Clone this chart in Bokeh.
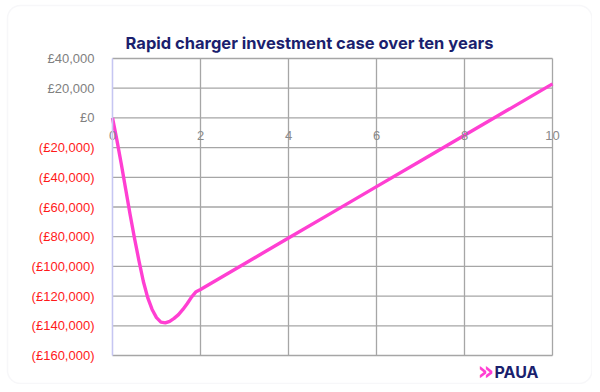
from bokeh.plotting import figure
from bokeh.models import LinearAxis, FixedTicker, Range1d, CustomJSTickFormatter, BoxAnnotation
from bokeh.core.properties import value
from bokeh.embed import file_html
from bokeh.resources import INLINE

# Data
years = [0, 0.1, 0.2, 0.3, 0.4, 0.5, 0.6, 0.7, 0.8, 0.9, 1.0, 1.1, 1.2, 1.3, 1.4,
         1.5, 1.6, 1.7, 1.8, 1.9, 2, 3, 4, 5, 6, 7, 8, 9, 10]
cumulative = [0, -15000, -31000, -48000, -65000, -81000, -96000, -110000, -121000,
              -129000, -134500, -137500, -138000, -137000, -135000, -132500, -129000,
              -125000, -120500, -117000, -115500, -98200, -80900, -63600, -46300,
              -29000, -11700, 5600, 22900]
x_ticks = [0, 2, 4, 6, 8, 10]
y_ticks_pos = [0, 20000, 40000]
y_ticks_neg = [-20000, -40000, -60000, -80000, -100000, -120000, -140000, -160000]
title_text = "Rapid charger investment case over ten years"

X_MIN, X_MAX = 0, 10
Y_MIN, Y_MAX = -160000, 40000

# pixel geometry: canvas 592 x 384, plot area 440 x 297 px at (112, 58)
PX_X = (X_MAX - X_MIN) / 440.0
PX_Y = (Y_MAX - Y_MIN) / 297.0
W, H = 592, 384
left_px, top_px = 112, 58


def xd(px):
    return X_MIN + (px - left_px) * PX_X


def yd(px):
    return Y_MAX - (px - top_px) * PX_Y


p = figure(width=W, height=H, output_backend="svg", toolbar_location=None,
           x_range=Range1d(xd(0), xd(W)), y_range=Range1d(yd(H), yd(0)),
           min_border=0)
p.background_fill_color = "white"
p.border_fill_color = "white"
p.outline_line_color = None
p.grid.visible = False

# card
p.add_layout(BoxAnnotation(left=xd(7), right=xd(591.5), top=yd(5), bottom=yd(383),
                           border_radius=13, fill_color="white", fill_alpha=1,
                           line_color="#e3e3ea", line_width=1.5, level="underlay"))

fmt = CustomJSTickFormatter(code="""
const a = Math.abs(tick).toLocaleString('en-GB');
return tick < 0 ? '(£' + a + ')' : '£' + a;
""")

# grid lines (plot-area box included)
grid_col = "#a6a6a6"
all_y = y_ticks_pos + y_ticks_neg
p.segment(x0=[X_MIN] * len(all_y), x1=[X_MAX] * len(all_y), y0=all_y, y1=all_y,
          line_color=grid_col, line_width=1.3)
p.segment(x0=x_ticks[1:], x1=x_ticks[1:], y0=[Y_MIN] * 5, y1=[Y_MAX] * 5,
          line_color=grid_col, line_width=1.3)

# negative labels, red
p.yaxis.ticker = FixedTicker(ticks=y_ticks_neg)
p.yaxis.formatter = fmt
p.yaxis.fixed_location = 0
p.yaxis.bounds = (Y_MIN, Y_MAX)
p.yaxis.major_label_text_color = "#ff1a1a"
p.yaxis.major_label_text_font = "Liberation Sans"
p.yaxis.major_label_text_font_size = "13px"
p.yaxis.axis_line_color = "#c6c6f2"
p.yaxis.axis_line_width = 1.3
p.yaxis.major_tick_line_color = None
p.yaxis.minor_tick_line_color = None
p.yaxis.major_label_standoff = 12

# positive labels, gray
ax2 = LinearAxis(ticker=FixedTicker(ticks=y_ticks_pos), formatter=fmt, fixed_location=0,
                 bounds=(Y_MIN, Y_MAX),
                 major_label_text_color="#808080", major_label_text_font="Liberation Sans",
                 major_label_text_font_size="13px", axis_line_color="#c6c6f2",
                 axis_line_width=1.3, major_tick_line_color=None,
                 minor_tick_line_color=None, major_label_standoff=12)
p.add_layout(ax2, "left")

p.xaxis.ticker = FixedTicker(ticks=x_ticks)
p.xaxis.fixed_location = 0
p.xaxis.axis_line_color = None
p.xaxis.major_tick_line_color = None
p.xaxis.minor_tick_line_color = None
p.xaxis.major_label_text_color = "#8a8a8a"
p.xaxis.major_label_text_font = "Liberation Sans"
p.xaxis.major_label_text_font_size = "13px"
p.xaxis.major_label_standoff = 7

p.line(years, cumulative, line_color="#ff3fd2", line_width=3.4, line_join="round")

# title and logo
p.text(x=[xd(309)], y=[yd(42)], text=[title_text], text_align="center",
       text_baseline="middle", text_font=value("Inter"), text_font_style="bold",
       text_font_size="16.5px", text_color="#1b1f6e")
p.text(x=[xd(477)], y=[yd(370)], text=["»"], text_align="left",
       text_baseline="middle", text_font=value("DejaVu Sans"), text_font_style="bold",
       text_font_size="26px", text_color="#ff3fd2")
p.text(x=[xd(494)], y=[yd(371)], text=["PAUA"], text_align="left",
       text_baseline="middle", text_font=value("Inter"), text_font_style="bold",
       text_font_size="16px", text_color="#1b1f6e")

open("out.html", "w").write(file_html(p, INLINE))
